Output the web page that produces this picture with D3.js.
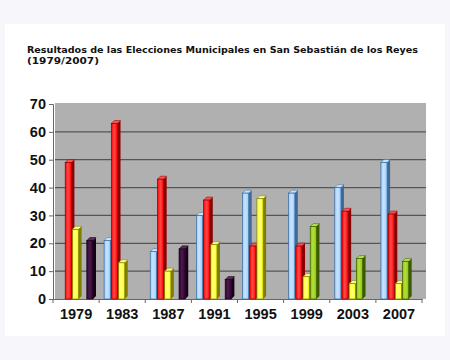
<!DOCTYPE html>
<html>
<head>
<meta charset="utf-8">
<script src="https://cdn.jsdelivr.net/npm/d3@7"></script>
<style>
  html, body { margin: 0; padding: 0; background: #f7f6fb; }
  svg { display: block; }
</style>
</head>
<body>
<div id="chart"></div>
<script>
const years = ["1979", "1983", "1987", "1991", "1995", "1999", "2003", "2007"];
const seriesNames = ["azul", "rojo", "amarillo", "verde", "morado"];
// null = no bar that year
const azul     = [null, 21, 17, 30, 38, 38, 40, 49];
const rojo     = [49, 63, 43, 35.5, 19, 19, 31.5, 30.5];
const amarillo = [25, 13, 10, 19.5, 36, 8, 5.5, 5.5];
const verde    = [null, null, null, null, null, 26, 14.5, 13.5];
const morado   = [21, null, 18, 7, null, null, null, null];
const yTicks = [0, 10, 20, 30, 40, 50, 60, 70];

const colors = {
  azul:     { front: "#99ccff", light: "#c8e4ff", side: "#3d6a99", top: "#c4e2ff" },
  rojo:     { front: "#ff0000", light: "#ff4a4a", side: "#8c0000", top: "#ff5050" },
  amarillo: { front: "#ffff00", light: "#ffff90", side: "#7d7d00", top: "#ffff80" },
  verde:    { front: "#8fc400", light: "#b4e040", side: "#3a5a00", top: "#b8e040" },
  morado:   { front: "#330033", light: "#4a1a4a", side: "#150015", top: "#5a2a5a" },
};

const W = 450, H = 360;
const svg = d3.select("#chart").append("svg").attr("width", W).attr("height", H);

// gradients for the front faces
const defs = svg.append("defs");
seriesNames.forEach(s => {
  const lg = defs.append("linearGradient").attr("id", `grad-${s}`)
    .attr("x1", "0%").attr("x2", "100%").attr("y1", "0%").attr("y2", "0%");
  lg.append("stop").attr("offset", "0%").attr("stop-color", colors[s].front);
  lg.append("stop").attr("offset", "45%").attr("stop-color", colors[s].light);
  lg.append("stop").attr("offset", "100%").attr("stop-color", colors[s].front);
});

// white panel
svg.append("rect").attr("x", 5).attr("y", 24).attr("width", 440).attr("height", 312).attr("fill", "#ffffff");

// title
const title = svg.append("text")
  .attr("font-family", "DejaVu Sans")
  .attr("font-weight", "bold")
  .attr("font-size", 8.8)
  .attr("fill", "#111");
title.append("tspan").attr("x", 27).attr("y", 53)
  .attr("textLength", 391).attr("lengthAdjust", "spacingAndGlyphs")
  .text("Resultados de las Elecciones Municipales en San Sebastián de los Reyes");
title.append("tspan").attr("x", 27).attr("y", 64)
  .attr("textLength", 72).attr("lengthAdjust", "spacingAndGlyphs")
  .text("(1979/2007)");

const plotLeft = 53, plotRight = 422, plotTop = 104, plotBottom = 299;
const depth = 3;

const x0 = d3.scaleBand().domain(years).range([plotLeft, plotRight]);
const x1 = d3.scaleBand().domain(seriesNames).range([5, 41]);
const y = d3.scaleLinear().domain([0, 70]).range([plotBottom, plotTop]);

// back wall
svg.append("rect")
  .attr("x", plotLeft + 2).attr("y", y(70) - 1)
  .attr("width", plotRight + 2 - plotLeft).attr("height", plotBottom - y(70) + 1)
  .attr("fill", "#b0b0b0");

// gridlines
svg.append("g").selectAll("line")
  .data(yTicks.filter(d => d > 0 && d < 70))
  .join("line")
  .attr("x1", plotLeft + 2).attr("x2", plotRight + 4)
  .attr("y1", d => y(d)).attr("y2", d => y(d))
  .attr("stroke", "#555").attr("stroke-width", 1.3);

// y axis
const yAxis = d3.axisLeft(y).tickValues(yTicks).tickSize(4).tickPadding(3);
const gy = svg.append("g").attr("transform", `translate(${plotLeft},0)`).call(yAxis);
gy.select(".domain").attr("stroke", "#666");
gy.selectAll(".tick line").attr("stroke", "#666");
gy.selectAll("text")
  .attr("font-family", "Liberation Sans, Arial")
  .attr("font-weight", "bold")
  .attr("font-size", 14.5)
  .attr("fill", "#111");

// x axis
const xAxis = d3.axisBottom(x0).tickSize(0).tickPadding(10);
const gx = svg.append("g").attr("transform", `translate(0,${plotBottom})`).call(xAxis);
gx.select(".domain").attr("stroke", "#666");
gx.selectAll("text")
  .attr("font-family", "Liberation Sans, Arial")
  .attr("font-weight", "bold")
  .attr("font-size", 14.5)
  .attr("fill", "#111");
// tick marks at category boundaries
svg.append("g").selectAll("line")
  .data(years.concat(["end"]))
  .join("line")
  .attr("x1", (d, i) => plotLeft + i * x0.bandwidth())
  .attr("x2", (d, i) => plotLeft + i * x0.bandwidth())
  .attr("y1", plotBottom).attr("y2", plotBottom + 4)
  .attr("stroke", "#666");

// bars
const seriesData = { azul, rojo, amarillo, verde, morado };
const bars = [];
years.forEach((yr, i) => {
  seriesNames.forEach(s => {
    const v = seriesData[s][i];
    if (v != null) bars.push({ year: yr, series: s, value: v });
  });
});

const bw = 6.2;
const g = svg.append("g");
const barG = g.selectAll("g.bar").data(bars).join("g").attr("class", "bar");

// side face
barG.append("path")
  .attr("d", d => {
    const x = x0(d.year) + x1(d.series) + bw;
    const yt = y(d.value);
    return `M${x},${plotBottom} L${x},${yt} L${x + depth},${yt - depth} L${x + depth},${plotBottom - depth} Z`;
  })
  .attr("fill", d => colors[d.series].side);

// top face
barG.append("path")
  .attr("d", d => {
    const x = x0(d.year) + x1(d.series);
    const yt = y(d.value);
    return `M${x},${yt} L${x + depth},${yt - depth} L${x + bw + depth},${yt - depth} L${x + bw},${yt} Z`;
  })
  .attr("fill", d => colors[d.series].top)
  .attr("stroke", d => colors[d.series].side)
  .attr("stroke-width", 0.5);

// front face
barG.append("rect")
  .attr("x", d => x0(d.year) + x1(d.series))
  .attr("y", d => y(d.value))
  .attr("width", bw)
  .attr("height", d => plotBottom - y(d.value))
  .attr("fill", d => `url(#grad-${d.series})`)
  .attr("stroke", d => colors[d.series].side)
  .attr("stroke-width", 0.7);
</script>
</body>
</html>
